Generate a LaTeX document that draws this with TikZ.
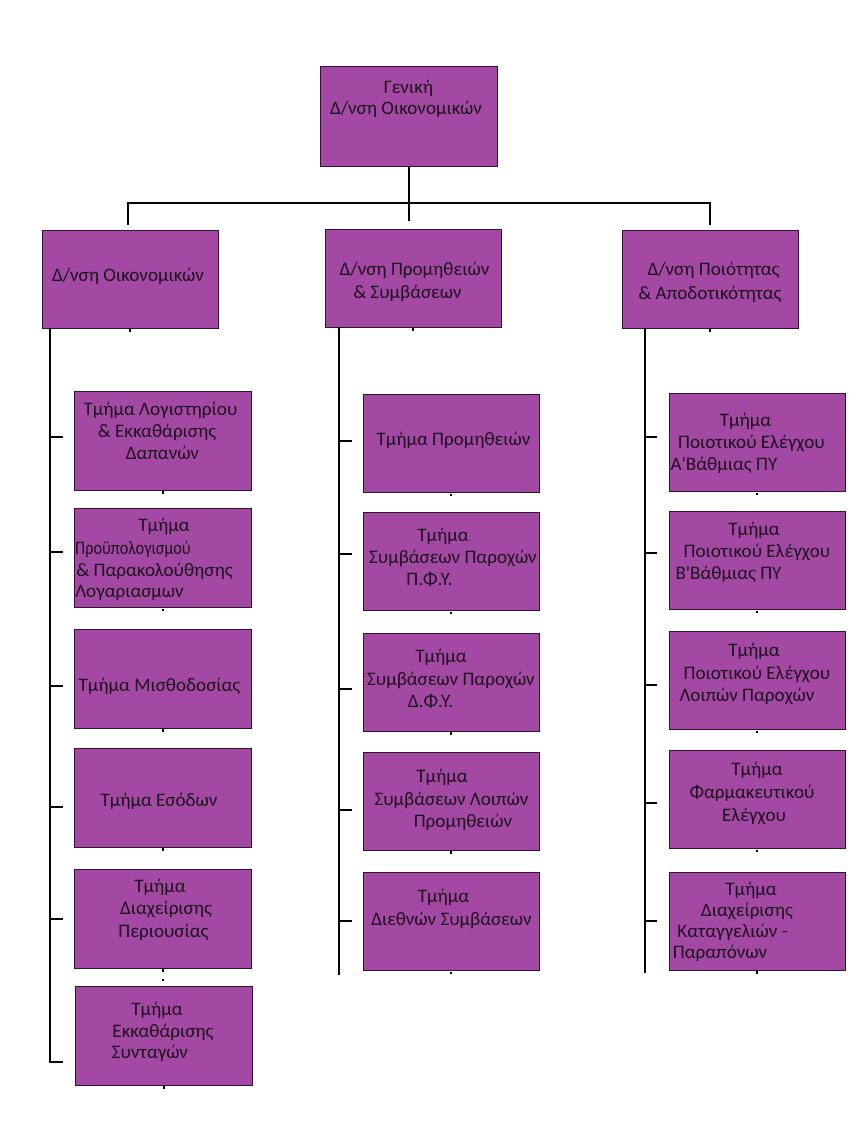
\documentclass[tikz,border=0pt]{standalone}
\usepackage{fontspec}
\setmainfont{Carlito}[Ligatures=TeXOff]
\definecolor{boxfill}{RGB}{163,73,164}
\definecolor{boxline}{RGB}{50,20,50}
\definecolor{txtcol}{RGB}{30,10,30}
\tikzset{
  box/.style={draw=boxline, fill=boxfill, line width=1pt, inner sep=0pt},
  txt/.style={anchor=base, inner sep=0pt, text=txtcol, font=\fontsize{19.1}{22}\selectfont},
  conn/.style={line width=2.7pt, black, line cap=butt},
  tick/.style={line width=2.7pt, black},
  dot/.style={fill=black, inner sep=0pt, minimum width=2pt, minimum height=2.5pt}
}
\begin{document}
\begin{tikzpicture}[x=1pt,y=-1pt]
\useasboundingbox (0,0) rectangle (864,1148);
% boxes
\node[box, minimum width=177pt, minimum height=99pt] (top) at (408.5,116.5) {};
\node[box, minimum width=176pt, minimum height=98pt] (da) at (130,279) {};
\node[box, minimum width=176pt, minimum height=98pt] (db) at (413,278) {};
\node[box, minimum width=176pt, minimum height=98pt] (dc) at (710,279) {};
\foreach \n/\cy in {L1/440.5,L2/558,L3/678.5,L4/797.5,L5/918.5}
  \node[box, minimum width=177pt, minimum height=99pt] (\n) at (162.5,\cy) {};
\node[box, minimum width=177pt, minimum height=99pt] (L6) at (163.5,1035.5) {};
\foreach \n/\cy in {M1/443.5,M2/561.5,M3/682,M4/801,M5/921.5}
  \node[box, minimum width=176pt, minimum height=98pt] (\n) at (451,\cy) {};
\foreach \n/\cy in {R1/442.5,R2/560.5,R3/680.5,R4/799.5,R5/921}
  \node[box, minimum width=176pt, minimum height=98pt] (\n) at (757,\cy) {};
% small marks at box bottoms
\foreach \n in {top,da,db,dc,L1,L2,L3,L4,L5,L6,M1,M2,M3,M4,M5,R1,R2,R3,R4,R5}
  \node[dot] at ([yshift=-2pt]\n.south) {};
\node[dot] (extra) at (163,980) {};
% texts
\node[txt] (t0a) at (408.5,93) {Γενική};
\node[txt] (t0b) at (406,114) {Δ/νση Οικονομικών};
\node[txt] (tda) at (128,281) {Δ/νση Οικονομικών};
\node[txt] (tdb1) at (414.5,275) {Δ/νση Προμηθειών};
\node[txt] (tdb2) at (407.5,298.5) {\& Συμβάσεων};
\node[txt] (tdc1) at (713.5,275) {Δ/νση Ποιότητας};
\node[txt] (tdc2) at (710,299) {\& Αποδοτικότητας};
% left column
\node[txt] (l1a) at (160.5,415) {Τμήμα Λογιστηρίου};
\node[txt] (l1b) at (157,437.5) {\& Εκκαθάρισης};
\node[txt] (l1c) at (162.5,459) {Δαπανών};
\node[txt] (l2a) at (164,531) {Τμήμα};
\node[txt] (l2b) at (133,554) {\scalebox{0.85}[1]{Προϋπολογισμού}};
\node[txt] (l2c) at (154.5,576) {\& Παρακολούθησης};
\node[txt] (l2d) at (129.5,597.5) {Λογαριασμων};
\node[txt] (l3a) at (159.5,691) {Τμήμα Μισθοδοσίας};
\node[txt] (l4a) at (159,806) {Τμήμα Εσόδων};
\node[txt] (l5a) at (160,892) {Τμήμα};
\node[txt] (l5b) at (166,914) {Διαχείρισης};
\node[txt] (l5c) at (163.5,937) {Περιουσίας};
\node[txt] (l6a) at (157,1015) {Τμήμα};
\node[txt] (l6b) at (163,1037) {Εκκαθάρισης};
\node[txt] (l6c) at (150,1058.5) {Συνταγών};
% middle column
\node[txt] (m1a) at (453.5,445) {Τμήμα Προμηθειών};
\node[txt] (m2a) at (443,541) {Τμήμα};
\node[txt] (m2b) at (453,563.5) {Συμβάσεων Παροχών};
\node[txt] (m2c) at (429.5,585.5) {Π.Φ.Υ.};
\node[txt] (m3a) at (441,662.5) {Τμήμα};
\node[txt] (m3b) at (451,685) {Συμβάσεων Παροχών};
\node[txt] (m3c) at (430.5,707) {Δ.Φ.Υ.};
\node[txt] (m4a) at (442,782) {Τμήμα};
\node[txt] (m4b) at (451.5,805) {Συμβάσεων Λοιπών};
\node[txt] (m4c) at (463,827) {Προμηθειών};
\node[txt] (m5a) at (443.5,902.5) {Τμήμα};
\node[txt] (m5b) at (451.5,925) {Διεθνών Συμβάσεων};
% right column
\node[txt] (r1a) at (745.5,426) {Τμήμα};
\node[txt] (r1b) at (751.5,448.5) {Ποιοτικού Ελέγχου};
\node[txt] (r1c) at (724,470.5) {Α'Βάθμιας ΠΥ};
\node[txt] (r2a) at (754,535) {Τμήμα};
\node[txt] (r2b) at (757,557) {Ποιοτικού Ελέγχου};
\node[txt] (r2c) at (728.5,579.5) {Β'Βάθμιας ΠΥ};
\node[txt] (r3a) at (754,656) {Τμήμα};
\node[txt] (r3b) at (757,679) {Ποιοτικού Ελέγχου};
\node[txt] (r3c) at (747,701.5) {Λοιπών Παροχών};
\node[txt] (r4a) at (757,775.5) {Τμήμα};
\node[txt] (r4b) at (752,798.5) {Φαρμακευτικού};
\node[txt] (r4c) at (754,821) {Ελέγχου};
\node[txt] (r5a) at (751,895) {Τμήμα};
\node[txt] (r5b) at (747,916.5) {Διαχείρισης};
\node[txt] (r5c) at (732.5,937.5) {Καταγγελιών -};
\node[txt] (r5d) at (720,958.5) {Παραπόνων};
% connectors top
\coordinate (bar) at (409,203);
\coordinate (barL) at (128,203);
\coordinate (barR) at (710,203);
\draw[conn] (top.south -| bar) -- (bar);
\draw[conn] ([xshift=-1.35pt]barL) -- ([xshift=1.35pt]barR);
\draw[conn] (barL) -- (128,225);
\draw[conn] (bar) -- (409,221);
\draw[conn] (barR) -- (710,225);
% spines
\coordinate (sL) at (50,328);
\coordinate (sM) at (339,327);
\coordinate (sR) at (645,328);
\draw[conn] (sL) -- (50,1062) -- (63,1062);
\draw[conn] (sM) -- (339,975);
\draw[conn] (sR) -- (645,973);
\foreach \y in {437,552,686,807,919}
  \draw[tick] (50,\y) -- (63,\y);
\foreach \y in {441,554,689,810,921}
  \draw[tick] (339,\y) -- (352,\y);
\foreach \y in {437,553,685,803,921}
  \draw[tick] (645,\y) -- (657,\y);
\end{tikzpicture}
\end{document}
